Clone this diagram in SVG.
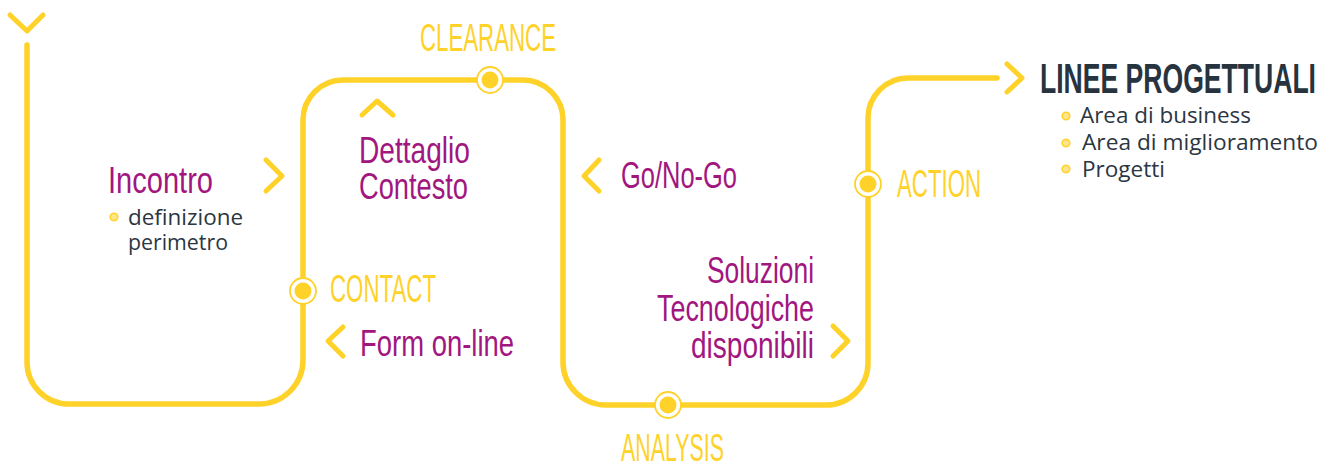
<svg xmlns="http://www.w3.org/2000/svg" width="1335" height="464" viewBox="0 0 1335 464">
<style>
.ln{fill:none;stroke:#FFD22A;stroke-width:5.5;stroke-linecap:round;stroke-linejoin:round}
.ch{fill:none;stroke:#FFD22A;stroke-width:5;stroke-linecap:round;stroke-linejoin:round}
.ring{fill:#fff;stroke:#FFD22A;stroke-width:1.8}
.dot{fill:#FFD22A}
.y{font-family:"Liberation Sans",Arial,sans-serif;font-size:38px;fill:#FFD22A}
.m{font-family:"Liberation Sans",Arial,sans-serif;font-size:37px;fill:#A2167F}
.b{font-family:"Open Sans","Noto Sans",sans-serif;font-size:21px;fill:#2B3642}
.bl{fill:#FFE58A;stroke:#FFD22A;stroke-width:1.6}
</style>
<g id="connectors">
<path class="ln" d="M27,45 V362 A42,42 0 0 0 69,404 H259 A44,44 0 0 0 303,360 V120 A40,40 0 0 1 343,80 H523 A40,40 0 0 1 563,120 V362 A43,43 0 0 0 606,405 H826 A42,42 0 0 0 868,363 V118 A40,40 0 0 1 908,78 H997"/>
<polyline class="ch" points="10,15 27,31 43,15"/>
<polyline class="ch" points="1007,64 1022,78 1007,92"/>
</g>
<g id="clearance">
<circle class="ring" cx="490" cy="80" r="13"/><circle class="dot" cx="490" cy="80" r="8.5"/>
<text class="y" x="420" y="51" textLength="136" lengthAdjust="spacingAndGlyphs">CLEARANCE</text>
</g>
<g id="contact">
<circle class="ring" cx="303" cy="291" r="13"/><circle class="dot" cx="303" cy="291" r="8.5"/>
<text class="y" x="330" y="302" textLength="106" lengthAdjust="spacingAndGlyphs">CONTACT</text>
</g>
<g id="analysis">
<circle class="ring" cx="668" cy="405" r="13"/><circle class="dot" cx="668" cy="405" r="8.5"/>
<text class="y" x="621" y="461" textLength="103" lengthAdjust="spacingAndGlyphs">ANALYSIS</text>
</g>
<g id="action">
<circle class="ring" cx="868" cy="184" r="13"/><circle class="dot" cx="868" cy="184" r="8.5"/>
<text class="y" x="897" y="197" textLength="84" lengthAdjust="spacingAndGlyphs">ACTION</text>
</g>
<g id="incontro">
<polyline class="ch" points="266,160 282,176 266,191"/>
<text class="m" x="108" y="193" textLength="105" lengthAdjust="spacingAndGlyphs">Incontro</text>
<circle class="bl" cx="114" cy="217" r="3.8"/>
<text class="b" x="128" y="225" textLength="115" lengthAdjust="spacingAndGlyphs">definizione</text>
<text class="b" x="128" y="250" textLength="100" lengthAdjust="spacingAndGlyphs">perimetro</text>
</g>
<g id="dettaglio">
<polyline class="ch" points="362,115 377,101 393,115"/>
<text class="m" x="359" y="163" textLength="111" lengthAdjust="spacingAndGlyphs">Dettaglio</text>
<text class="m" x="359" y="199" textLength="109" lengthAdjust="spacingAndGlyphs">Contesto</text>
</g>
<g id="gonogo">
<polyline class="ch" points="599,160 584,176 599,191"/>
<text class="m" x="621" y="188" textLength="116" lengthAdjust="spacingAndGlyphs">Go/No-Go</text>
</g>
<g id="form">
<polyline class="ch" points="343,327 328,341 343,356"/>
<text class="m" x="360" y="356" textLength="154" lengthAdjust="spacingAndGlyphs">Form on-line</text>
</g>
<g id="soluzioni">
<polyline class="ch" points="833,326 848,341 833,356"/>
<text class="m" x="707" y="283" textLength="107" lengthAdjust="spacingAndGlyphs">Soluzioni</text>
<text class="m" x="657" y="321" textLength="157" lengthAdjust="spacingAndGlyphs">Tecnologiche</text>
<text class="m" x="691" y="358" textLength="123" lengthAdjust="spacingAndGlyphs">disponibili</text>
</g>
<g id="linee">
<text x="1040" y="93" textLength="276" lengthAdjust="spacingAndGlyphs" style="font-family:'Liberation Sans',Arial,sans-serif;font-size:42px;font-weight:bold;fill:#27343F">LINEE PROGETTUALI</text>
<circle class="bl" cx="1066" cy="116" r="3.8"/>
<text class="b" x="1080" y="123" textLength="171" lengthAdjust="spacingAndGlyphs">Area di business</text>
<circle class="bl" cx="1066" cy="143" r="3.8"/>
<text class="b" x="1082" y="150" textLength="236" lengthAdjust="spacingAndGlyphs">Area di miglioramento</text>
<circle class="bl" cx="1066" cy="169" r="3.8"/>
<text class="b" x="1082" y="177" textLength="83" lengthAdjust="spacingAndGlyphs">Progetti</text>
</g>
</svg>
